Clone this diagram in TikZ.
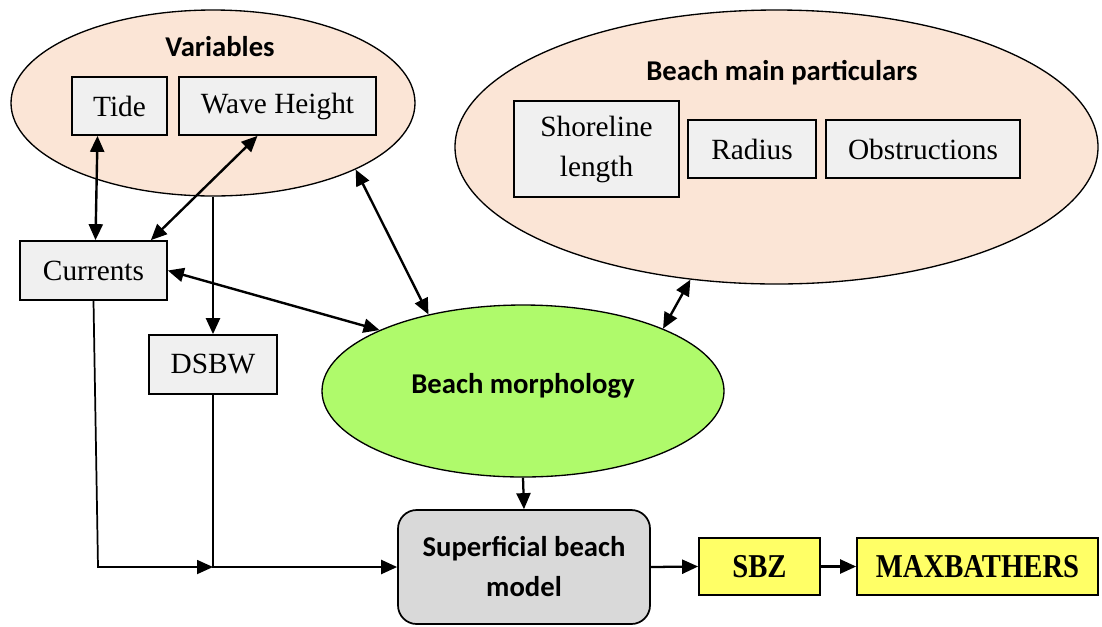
\documentclass[tikz,border=0pt]{standalone}
\usepackage{fontspec}
\setmainfont{Liberation Serif}
\newfontfamily\calib{Carlito}
\newfontfamily\condserif[FakeStretch=0.86]{Liberation Serif}
\usetikzlibrary{arrows.meta,shapes.geometric,calc}
\definecolor{peach}{HTML}{FBE5D6}
\definecolor{boxgray}{HTML}{F0F0F0}
\definecolor{morphgreen}{HTML}{AFFA6B}
\definecolor{modelgray}{HTML}{D9D9D9}
\definecolor{outyellow}{HTML}{FFFF66}
\tikzset{
  group/.style={ellipse, draw, fill=peach, line width=1pt, inner sep=0pt},
  itembox/.style={rectangle, draw, fill=boxgray, line width=1.3pt, inner sep=0pt, align=center,
    font=\fontsize{22}{30}\selectfont},
  grouptitle/.style={font=\calib\bfseries\fontsize{21.5}{26}\selectfont},
  outbox/.style={rectangle, draw, fill=outyellow, line width=1.3pt, inner sep=0pt,
    font=\condserif\bfseries\fontsize{25}{28}\selectfont},
  arr/.style={line width=1.7pt, -{Triangle[length=12pt,width=10.5pt]}},
  thinarr/.style={line width=1.3pt, -{Triangle[length=12pt,width=10.5pt]}},
  darr/.style={line width=1.8pt, {Triangle[length=12pt,width=10.5pt]}-{Triangle[length=12pt,width=10.5pt]}},
}
\begin{document}
\begin{tikzpicture}[x=0.75pt,y=-0.75pt]
\useasboundingbox (0,0) rectangle (1102,626);

% Variables group
\node[group, minimum width=303pt, minimum height=139.5pt] (var) at (213,103) {};
\node[grouptitle] (vartitle) at (220,47) {Variables};
\node[itembox, minimum width=71.25pt, minimum height=43.5pt] (tide) at (119.5,106) {Tide};
\node[itembox, minimum width=147.75pt, minimum height=43.5pt] (wh) at (277.5,106) {Wave Height};

% Beach main particulars group
\node[group, minimum width=482.25pt, minimum height=205.5pt] (bmp) at (776.5,147) {};
\node[grouptitle] (bmptitle) at (782,73) {Beach main particulars};
\node[itembox, minimum width=123.75pt, minimum height=72pt] (shore) at (596.5,149) {Shoreline\\length};
\node[itembox, minimum width=96pt, minimum height=43.5pt] (radius) at (752,149) {Radius};
\node[itembox, minimum width=145.5pt, minimum height=43.5pt] (obst) at (923,149) {Obstructions};

% Other nodes
\node[itembox, minimum width=110.25pt, minimum height=44.25pt] (cur) at (93.5,270.5) {Currents};
\node[itembox, minimum width=96pt, minimum height=44.25pt] (dsbw) at (213,364.5) {DSBW};
\node[ellipse, draw, fill=morphgreen, line width=1pt, inner sep=0pt,
      minimum width=301.5pt, minimum height=129pt] (morph) at (523,391) {};
\node[font=\calib\bfseries\fontsize{21.5}{26}\selectfont] (morphtext) at (523,386) {Beach morphology};
\node[rectangle, rounded corners=14pt, draw, fill=modelgray, line width=1.3pt, inner sep=0pt,
      minimum width=189pt, minimum height=85.5pt, align=center,
      font=\calib\bfseries\fontsize{21.5}{30}\selectfont] (sbm) at (524,567) {Superficial beach\\model};
\node[outbox, minimum width=90.75pt, minimum height=42.75pt] (sbz) at (759.5,566.5) {SBZ};
\node[outbox, minimum width=180.75pt, minimum height=42.75pt] (maxb) at (977.5,566.5) {MAXBATHERS};

\coordinate (k) at (98,567);
\coordinate (j) at (213,567);

% Connectors
\draw[darr] ($(tide.south)+(-22,0)$) -- ($(cur.north)+(2,0)$);
\draw[darr] ($(wh.south)+(-20,0)$) -- ($(cur.north east)+(-17,0)$);
\draw[darr] (var.-25) -- (morph.141);
\draw[darr] (cur.east) -- (morph.157.5);
\draw[darr] (bmp.-123) -- (morph.24.3);
\draw[arr] (var.south) -- (dsbw.north);
\draw[arr] (morph.south) -- (sbm.north);
\draw[thinarr] (cur.south) -- (k) -- (j);
\draw[arr] (dsbw.south) -- (j) -- (sbm.west);
\draw[arr] (sbm.east) -- (sbz.west);
\draw[arr] (sbz.east) -- (maxb.west);
\end{tikzpicture}
\end{document}
